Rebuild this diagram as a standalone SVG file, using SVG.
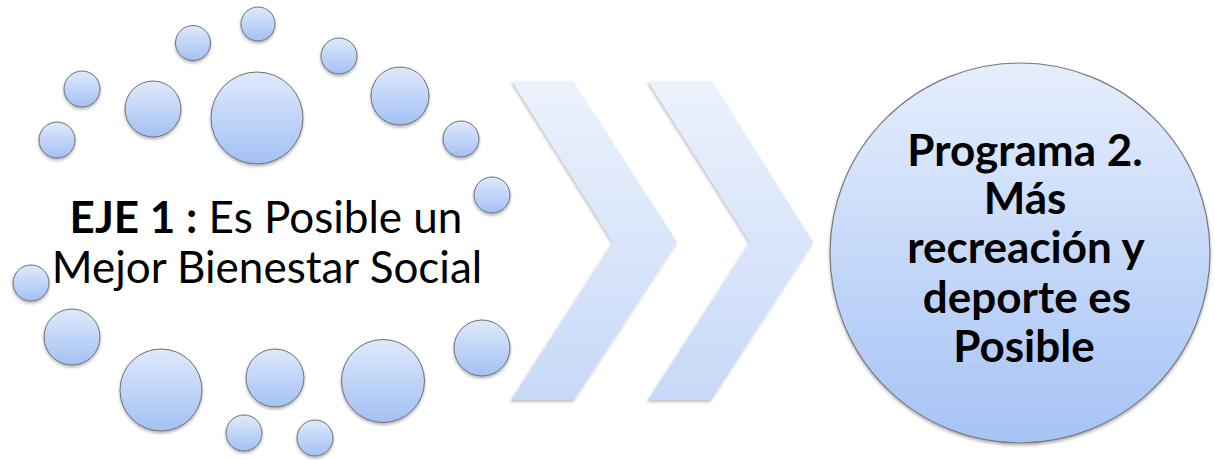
<svg xmlns="http://www.w3.org/2000/svg" width="1215" height="460" viewBox="0 0 1215 460">
  <defs>
    <linearGradient id="gBall" x1="0" y1="0" x2="0" y2="1">
      <stop offset="0" stop-color="#dfe9fc"/>
      <stop offset="1" stop-color="#a3c1f4"/>
    </linearGradient>
    <linearGradient id="gBig" x1="0" y1="0" x2="0" y2="1">
      <stop offset="0" stop-color="#e6eefd"/>
      <stop offset="1" stop-color="#a6c3f5"/>
    </linearGradient>
    <linearGradient id="gChev" x1="0" y1="0" x2="0" y2="1">
      <stop offset="0" stop-color="#ecf2fd"/>
      <stop offset="1" stop-color="#c7d9f8"/>
    </linearGradient>
    <filter id="sh" x="-20%" y="-20%" width="140%" height="150%">
      <feDropShadow dx="0" dy="2" stdDeviation="1.5" flood-color="#000" flood-opacity="0.3"/>
    </filter>
    <filter id="shc" x="-20%" y="-10%" width="140%" height="120%">
      <feDropShadow dx="-1" dy="2" stdDeviation="1.5" flood-color="#000" flood-opacity="0.25"/>
    </filter>
  </defs>
  <style>
    .ball { fill: url(#gBall); stroke: #6f6f6f; stroke-width: 1; filter: url(#sh); }
    .big { fill: url(#gBig); stroke: #7a7a7a; stroke-width: 1.2; filter: url(#sh); }
    .chev { fill: url(#gChev); filter: url(#shc); }
    .lt { font-family: Lato, "Open Sans", "Liberation Sans", sans-serif; font-size: 44px; fill: #000; }
    .rt { font-family: Lato, "Open Sans", "Liberation Sans", sans-serif; font-size: 44px; font-weight: bold; fill: #000; }
  </style>

  <g id="circle-ring">
    <circle class="ball" cx="258" cy="24" r="17"/>
    <circle class="ball" cx="193" cy="43" r="17.5"/>
    <circle class="ball" cx="339" cy="56" r="18"/>
    <circle class="ball" cx="82" cy="89" r="18"/>
    <circle class="ball" cx="153" cy="109" r="28"/>
    <circle class="ball" cx="257" cy="118" r="46"/>
    <circle class="ball" cx="400" cy="96" r="29"/>
    <circle class="ball" cx="57" cy="140" r="18"/>
    <circle class="ball" cx="461" cy="139" r="18"/>
    <circle class="ball" cx="492" cy="195" r="18"/>
    <circle class="ball" cx="31" cy="283" r="18"/>
    <circle class="ball" cx="72" cy="337" r="28"/>
    <circle class="ball" cx="161" cy="390" r="41"/>
    <circle class="ball" cx="275" cy="378" r="29"/>
    <circle class="ball" cx="244" cy="433" r="18"/>
    <circle class="ball" cx="315" cy="438" r="18"/>
    <circle class="ball" cx="383" cy="381" r="41.5"/>
    <circle class="ball" cx="482" cy="348" r="28"/>
  </g>

  <g id="eje-1">
    <text class="lt" x="266" y="233" text-anchor="middle"><tspan font-weight="bold">EJE 1 :</tspan> Es Posible un</text>
    <text class="lt" x="267" y="283" text-anchor="middle">Mejor Bienestar Social</text>
  </g>

  <g id="connectors">
    <polygon class="chev" points="512,81 573,81 677,242 574,400 511,400 613,242"/>
    <polygon class="chev" points="648,81 712,81 813,242 711,400 648,400 750,242"/>
  </g>

  <g id="programa-2">
    <circle class="big" cx="1020" cy="253" r="190"/>
    <text class="rt" x="1025" y="166" text-anchor="middle">Programa 2.</text>
    <text class="rt" x="1025" y="214" text-anchor="middle">Más</text>
    <text class="rt" x="1026" y="263" text-anchor="middle">recreación y</text>
    <text class="rt" x="1027" y="313" text-anchor="middle">deporte es</text>
    <text class="rt" x="1024" y="362" text-anchor="middle">Posible</text>
  </g>
</svg>
